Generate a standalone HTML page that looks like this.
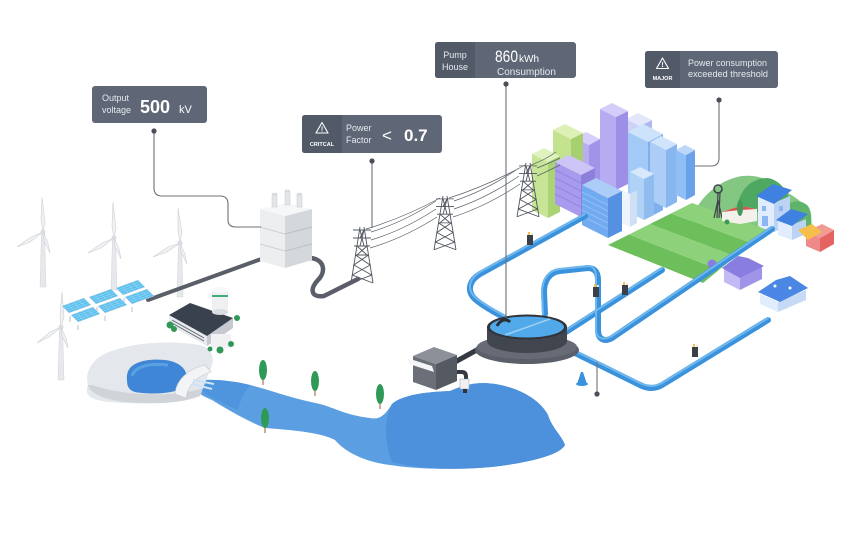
<!DOCTYPE html>
<html><head><meta charset="utf-8">
<style>
html,body{margin:0;padding:0;background:#fff;}
svg{display:block;}
text{font-family:"Liberation Sans",sans-serif;}
</style></head><body>
<svg width="850" height="550" viewBox="0 0 850 550" xmlns="http://www.w3.org/2000/svg">
<defs>
<g id="tower" fill="none" stroke="#4f545d" stroke-width="0.9">
<path d="M-2 0 L-11 56 M2 0 L11 56 M-9 3 L9 3 M-9 11 L9 11 M-8 19 L8 19 M-2 3 L2 19 M2 3 L-2 19 M-2 11 L2 3 M-6.5 28 L6.5 28 M-6.5 28 L8.1 38 L-9.7 48 L11 56 M6.5 28 L-8.1 38 L9.7 48 L-11 56 M-5 19 L5 28 M5 19 L-5 28"/>
</g>
<g id="meter">
<rect x="-3" y="-5" width="6" height="10" fill="#3b3f48"/>
<rect x="-2" y="-8" width="2" height="3" fill="#f2c14e"/>
<rect x="1" y="-7" width="2" height="2" fill="#e8e8e8"/>
</g>
<g id="panel">
<polygon points="0,0 22,-8 29,-1 7,7" fill="#5cc0ee" stroke="#d5dde5" stroke-width="0.5"/>
<path d="M5.5,-2 L12.5,5 M11,-4 L18,3 M16.5,-6 L23.5,1 M1.75,1.75 L23.75,-6.25 M3.5,3.5 L25.5,-4.5 M5.25,5.25 L27.25,-2.75" stroke="#a6dcf6" stroke-width="0.5"/>
</g>
</defs>

<!-- hills -->
<path d="M688 225 C 698 198, 718 180, 742 176 C 760 174, 776 182, 786 192 C 798 198, 812 208, 812 228 Z" fill="#84c782"/>
<path d="M736 210 C 740 188, 752 178, 768 178 C 778 180, 786 188, 790 200 L 790 215 Z" fill="#4fa862"/>
<path d="M780 215 C 786 200, 800 198, 808 206 C 812 212, 812 222, 810 228 Z" fill="#5fb36a"/>

<!-- field -->
<polygon points="608,245 629,234.5 719.25,269.75 703,283" fill="#6cbf5b"/>
<polygon points="629,234.5 650,224 735.5,256.5 719.25,269.75" fill="#8dd27a"/>
<polygon points="650,224 671,213.5 751.75,243.25 735.5,256.5" fill="#6cbf5b"/>
<polygon points="671,213.5 692,203 768,230 751.75,243.25" fill="#8dd27a"/>

<!-- windmill & farmhouse -->
<path d="M717 218 L718 192 M719 218 L720 192 M714 218 L718 200 M722 218 L718 200" stroke="#3d4249" stroke-width="1.2" fill="none"/>
<circle cx="718" cy="189" r="4" fill="none" stroke="#3d4249" stroke-width="1.5"/>
<polygon points="722,212 740,206 757,209 757,221 740,224 722,221" fill="#f4f1ec"/>
<polygon points="722,212 740,206 757,209 740,210" fill="#d9534f"/>
<circle cx="727" cy="222" r="2.5" fill="#3f9a58"/>
<ellipse cx="740" cy="208" rx="3" ry="8" fill="#3f9a58"/>

<!-- blue big house -->
<polygon points="758,196 774,203 774,232 758,226" fill="#e1ecfc"/>
<polygon points="774,203 790,196 790,225 774,232" fill="#bcd3f5"/>
<polygon points="756,196 773,184 792,190 774,204" fill="#3f80e0"/>
<rect x="762" y="206" width="4" height="5" fill="#8bb6f2"/>
<rect x="779" y="206" width="4" height="5" fill="#8bb6f2"/>
<rect x="762" y="216" width="6" height="10" fill="#8bb6f2"/>
<polygon points="778,220 792,225 792,240 778,235" fill="#e1ecfc"/>
<polygon points="792,225 806,219 806,234 792,240" fill="#bcd3f5"/>
<polygon points="776,220 791,209 808,214 792,226" fill="#3f80e0"/>
<!-- shop -->
<polygon points="806,232 820,238 820,252 806,246" fill="#ee8a8a"/>
<polygon points="820,238 834,230 834,244 820,252" fill="#e46462"/>
<polygon points="806,232 822,224 834,230 820,238" fill="#f29a94"/>
<polygon points="798,230 812,224 822,232 808,240" fill="#f6be4a"/>

<!-- purple house -->
<polygon points="724,268 740,276 740,290 724,282" fill="#c2baf5"/>
<polygon points="740,276 762,266 762,279 740,290" fill="#9f94e8"/>
<polygon points="722,268 738,256 748,258 764,266 740,278" fill="#8a7de0"/>
<circle cx="712" cy="264" r="4.5" fill="#8a7de0"/>
<!-- blue house bottom -->
<polygon points="760,294 778,302 778,312 760,304" fill="#e1ecfc"/>
<polygon points="778,302 806,290 806,300 778,312" fill="#c6daf6"/>
<polygon points="758,292 776,280 790,276 808,288 780,302" fill="#4a86e3"/>
<circle cx="775" cy="286" r="1.5" fill="#fff"/><circle cx="790" cy="288" r="1.5" fill="#fff"/>

<!-- city buildings -->
<polygon points="626,119 640,126 640,176 626,169" fill="#cfd2f7"/>
<polygon points="640,126 652,120 652,170 640,176" fill="#b1b8ef"/>
<polygon points="626,119 640,126 652,120 638,113" fill="#e4e6fb"/>
<polygon points="575,138 589,145 589,185 575,178" fill="#b9adf2"/>
<polygon points="589,145 600,139 600,180 589,185" fill="#a194e8"/>
<polygon points="575,138 589,145 600,139 586,132" fill="#d6cff9"/>
<polygon points="553,130 571,139 571,210 553,201" fill="#c3e38e"/>
<polygon points="571,139 583,133 583,204 571,210" fill="#a7d06e"/>
<polygon points="553,130 571,139 583,133 565,124" fill="#ddf1b6"/>
<polygon points="532,154 548,162 548,218 532,210" fill="#c7e596"/>
<polygon points="548,162 560,156 560,212 548,218" fill="#aad374"/>
<polygon points="532,154 548,162 560,156 544,148" fill="#e0f2bd"/>
<polygon points="600,109 616,117 616,190 600,182" fill="#b7abf1"/>
<polygon points="616,117 628,111 628,184 616,190" fill="#9d8fe6"/>
<polygon points="600,109 616,117 628,111 612,103" fill="#d5cdf9"/>
<polygon points="628,132 648,142 648,218 628,208" fill="#a3caf6"/>
<polygon points="648,142 663,134 663,210 648,218" fill="#7fb0ee"/>
<polygon points="628,132 648,142 663,134 643,124" fill="#cde3fb"/>
<polygon points="650,142 666,150 666,208 650,200" fill="#abcdf6"/>
<polygon points="666,150 677,144 677,202 666,208" fill="#88b6ef"/>
<polygon points="650,142 666,150 677,144 661,136" fill="#d0e4fb"/>
<polygon points="676,150 686,155 686,200 676,195" fill="#8fbff4"/>
<polygon points="686,155 695,150 695,195 686,200" fill="#6aa2ea"/>
<polygon points="676,150 686,155 695,150 685,145" fill="#bcd8f8"/>
<polygon points="555,162 581,175 581,217 555,204" fill="#a89aec"/>
<polygon points="581,175 595,168 595,210 581,217" fill="#8d7fdc"/>
<polygon points="555,162 581,175 595,168 569,155" fill="#cdc4f7"/>
<path d="M555 170 L581 183 M555 178 L581 191 M555 186 L581 199 M555 194 L581 207" stroke="#9587e2" stroke-width="1"/>
<polygon points="630,172 644,179 644,220 630,213" fill="#b1d2f7"/>
<polygon points="644,179 654,174 654,215 644,220" fill="#90bcf0"/>
<polygon points="630,172 644,179 654,174 640,167" fill="#d8e8fc"/>
<polygon points="622,190 630,194 630,227 622,223" fill="#eef4fc"/>
<polygon points="630,194 637,190 637,223 630,227" fill="#cfdff4"/>
<polygon points="582,185 608,198 608,238 582,225" fill="#72aaf1"/>
<polygon points="608,198 622,191 622,231 608,238" fill="#5690e3"/>
<polygon points="582,185 608,198 622,191 596,178" fill="#abcdf8"/>
<path d="M582 192 L608 205 M582 198 L608 211 M582 204 L608 217 M582 210 L608 223 M582 216 L608 229" stroke="#8fbdf5" stroke-width="1"/>

<!-- towers and wires -->
<g fill="none" stroke="#5a5f68" stroke-width="0.7">
<path d="M366 229 Q 403 218 440 198"/>
<path d="M371 232 Q 404 222 436 201"/>
<path d="M371 240 Q 404 230 436 209"/>
<path d="M370 248 Q 404 238 437 217"/>
<path d="M449 198 Q 487 186 525 165"/>
<path d="M454 201 Q 487 190 519 168"/>
<path d="M454 209 Q 487 198 519 176"/>
<path d="M453 217 Q 487 206 520 184"/>
<path d="M531 165 Q 545 160 556 152 M537 168 Q 550 163 560 158 M537 176 Q 550 170 560 165"/>
</g>
<use href="#tower" transform="translate(362,227)"/>
<use href="#tower" transform="translate(445,196) scale(1,0.96)"/>
<use href="#tower" transform="translate(528,163) scale(1,0.96)"/>

<!-- river & lake -->
<path d="M190 382 C 205 378, 230 380, 250 385 C 270 390, 290 398, 320 404 C 335 408, 345 415, 370 418 C 380 420, 385 415, 392 404 C 402 395, 425 392, 450 391 C 462 386, 475 381, 495 384 C 520 388, 540 400, 548 415 C 552 428, 562 436, 565 445 C 560 455, 530 462, 500 466 C 470 470, 420 470, 390 465 C 365 462, 345 452, 335 440 C 320 432, 290 430, 265 428 C 245 420, 225 408, 212 400 C 200 395, 193 390, 190 382 Z" fill="#5b9fe2"/>
<path d="M392 404 C 402 395, 425 392, 450 391 C 462 386, 475 381, 495 384 C 520 388, 540 400, 548 415 C 552 428, 562 436, 565 445 C 560 455, 530 462, 500 466 C 470 470, 420 470, 392 462 C 385 445, 383 420, 392 404 Z" fill="#4d91dc"/>
<path d="M190 382 C 205 378, 230 380, 250 385 C 245 392, 240 400, 238 410 C 225 405, 205 395, 190 382 Z" fill="#4f95dd"/>

<!-- trees -->
<g fill="#2f9a57">
<ellipse cx="263" cy="370" rx="4" ry="10"/>
<ellipse cx="315" cy="381" rx="4" ry="10"/>
<ellipse cx="380" cy="394" rx="4" ry="10"/>
<ellipse cx="265" cy="418" rx="4" ry="10"/>
</g>
<g stroke="#9b5a3c" stroke-width="1">
<path d="M263 380 L263 385 M315 391 L315 396 M380 404 L380 409 M265 428 L265 433"/>
</g>

<!-- blue pipes -->
<g fill="none" stroke-linecap="round" stroke-linejoin="round">
<g stroke="#3b92dc" stroke-width="6">
<path d="M505 318 C 490 310, 478 303, 473 297 C 467 289, 470 280, 480 274 L 585 216"/>
<path d="M545 314 L 544 292 C 544 280, 550 272, 560 271 L 588 268 C 596 268, 598 274, 598 280 L 598 330 C 598 340, 605 342, 612 338 L 772 229"/>
<path d="M566 332 L 662 270"/>
<path d="M565 348 L 640 385 C 648 389, 655 389, 662 385 L 768 320"/>
</g>
<g stroke="#6fb8ee" stroke-width="2">
<path d="M505 316 C 490 308, 478 301, 473 295 C 467 287, 470 278, 480 272 L 585 214"/>
<path d="M543 314 L 542 292 C 542 280, 548 270, 560 269 L 588 266 C 596 266, 596 274, 596 280 L 596 330 C 596 340, 605 340, 612 336 L 772 227"/>
<path d="M566 330 L 662 268"/>
<path d="M565 346 L 640 383 C 648 387, 655 387, 662 383 L 768 318"/>
</g>
</g>
<use href="#meter" transform="translate(530,240)"/>
<use href="#meter" transform="translate(625,290)"/>
<use href="#meter" transform="translate(596,292)"/>
<use href="#meter" transform="translate(695,352)"/>
<path d="M577 384 L581 372 L583 372 L587 384 Z" fill="#3b92dc"/>
<ellipse cx="582" cy="384" rx="6" ry="2" fill="#3b92dc"/>

<!-- pump house box and pipes -->
<path d="M455 362 L 495 340" stroke="#353941" stroke-width="5" stroke-linecap="round"/>
<path d="M452 372 L 462 372 Q 466 372 466 377 L 466 388" stroke="#353941" stroke-width="4" fill="none"/>
<rect x="460" y="379" width="9" height="10" fill="#f0f1f3" stroke="#9aa0a8" stroke-width="0.5"/>
<rect x="463" y="389" width="4" height="4" fill="#333"/>
<polygon points="413,356 436,364 436,390 413,382" fill="#6b6f78"/>
<polygon points="436,364 457,355 457,381 436,390" fill="#555961"/>
<polygon points="413,356 434,347 457,355 436,364" fill="#8c9098"/>
<polygon points="407,358 432,366 434,372 409,364" fill="#f4f5f6"/>

<!-- pump tank -->
<ellipse cx="527" cy="350" rx="52" ry="14" fill="#5a5f69"/>
<ellipse cx="527" cy="347" rx="50" ry="12" fill="#666b75"/>
<rect x="487" y="327" width="80" height="14" fill="#41454e"/>
<ellipse cx="527" cy="341" rx="40" ry="12" fill="#41454e"/>
<ellipse cx="527" cy="327" rx="40" ry="12.5" fill="#2f333a"/>
<ellipse cx="527" cy="327" rx="37" ry="10.5" fill="#52a9e9"/>
<path d="M505 335 L 550 319" stroke="#9dd0f4" stroke-width="1.5"/>
<path d="M497 326 C 500 320, 506 318, 510 322" stroke="#2a2d33" stroke-width="3" fill="none"/>

<!-- dam -->
<path d="M88 385 C 84 370, 95 355, 115 350 C 135 343, 170 340, 200 345 C 212 348, 216 360, 210 370 L 200 396 C 180 403, 140 405, 110 402 C 90 400, 84 395, 88 385 Z" fill="#e4e7eb"/>
<path d="M88 385 C 90 395, 110 402, 140 403 C 165 404, 185 402, 200 396 L 203 388 C 180 396, 130 398, 92 385 Z" fill="#d0d4d9"/>
<path d="M127 380 C 125 365, 140 358, 165 360 C 182 362, 190 372, 186 385 C 180 394, 150 395, 135 392 C 128 390, 127 385, 127 380 Z" fill="#3f86d6"/>
<path d="M132 376 C 135 366, 150 363, 168 365" stroke="#5aa0e4" stroke-width="3" fill="none"/>
<path d="M175 394 C 176 380, 188 369, 205 365 L 211 372 C 197 376, 188 385, 186 398 Z" fill="#f3f4f6" stroke="#c3c8ce" stroke-width="0.6"/>
<path d="M192 384 L 212 389 M193 380 L 214 384" stroke="#cfe3f7" stroke-width="2"/>

<!-- wind turbines -->
<g fill="#e6e8eb" stroke="#d2d5da" stroke-width="0.5">
<polygon points="41.5,232 44.5,232 46,287 40,287"/>
<polygon points="112.5,238 115.5,238 117,290 111,290"/>
<polygon points="178.5,243 181.5,243 183,297 177,297"/>
<polygon points="59.5,327 62.5,327 64,380 58,380"/>
</g>
<g fill="#f0f1f3" stroke="#cdd0d5" stroke-width="0.6">
<path d="M43 232 L41 220 L42 197 L45 222 Z M43 232 L30 242 L17 247 L31 237 Z M43 232 L48 243 L50 253 L44 241 Z"/>
<path d="M114 238 L112 226 L113 202 L116 228 Z M114 238 L101 248 L88 253 L102 243 Z M114 238 L119 249 L121 259 L115 247 Z"/>
<path d="M180 243 L178 231 L178 208 L182 233 Z M180 243 L167 252 L153 257 L168 247 Z M180 243 L185 254 L187 264 L181 252 Z"/>
<path d="M61 327 L60 315 L62 292 L64 317 Z M61 327 L49 337 L37 343 L50 332 Z M61 327 L66 338 L68 348 L62 336 Z"/>
</g>
<g fill="#d9dce0">
<circle cx="43" cy="232" r="2.5"/><circle cx="114" cy="238" r="2.5"/><circle cx="180" cy="243" r="2.5"/><circle cx="61" cy="327" r="2.5"/>
</g>

<!-- power cables -->
<path d="M148 300 L 264 258" stroke="#5a5e68" stroke-width="4" stroke-linecap="round"/>
<path d="M311 258 C 325 260, 326 272, 318 280 C 310 288, 310 298, 324 296 L 358 279" stroke="#5a5e68" stroke-width="4.5" fill="none" stroke-linecap="round"/>

<!-- solar panels -->
<path d="M70 316 L70 322 M97 307 L97 313 M124 298 L124 304 M78 325 L78 330 M105 316 L105 321 M132 307 L132 312" stroke="#c8ccd2" stroke-width="1.2"/>
<use href="#panel" transform="translate(62,306)"/>
<use href="#panel" transform="translate(89,297)"/>
<use href="#panel" transform="translate(116,288)"/>
<use href="#panel" transform="translate(71,315)"/>
<use href="#panel" transform="translate(98,306)"/>
<use href="#panel" transform="translate(125,297)"/>

<!-- transformer -->
<polygon points="285,216 312,209 312,260 285,268" fill="#d4d7dc"/>
<polygon points="260,209 285,216 285,268 260,261" fill="#eceef0"/>
<polygon points="260,209 287,203 312,209 285,216" fill="#f6f7f8"/>
<path d="M260 227 L285 234 M260 244 L285 251" stroke="#cfd2d7" stroke-width="1"/>
<path d="M285 234 L312 227 M285 251 L312 244" stroke="#bcc0c6" stroke-width="1"/>
<g fill="#e3e5e8" stroke="#c8ccd1" stroke-width="0.5">
<rect x="272" y="194" width="5" height="13"/><ellipse cx="274.5" cy="194" rx="2.5" ry="1"/>
<rect x="285" y="191" width="5" height="14"/><ellipse cx="287.5" cy="191" rx="2.5" ry="1"/>
<rect x="297" y="194" width="5" height="13"/><ellipse cx="299.5" cy="194" rx="2.5" ry="1"/>
</g>

<!-- factory -->
<polygon points="169,315 207,336 207,346 169,325" fill="#e8eaed"/>
<polygon points="207,336 233,318 233,328 207,346" fill="#c6cad0"/>
<polygon points="169,315 190,303 233,318 207,336" fill="#3a414e"/>
<path d="M172 320 L204 338 M172 323 L204 341" stroke="#5e6571" stroke-width="1"/>
<rect x="212" y="290" width="16" height="22" fill="#eef0f2"/>
<ellipse cx="220" cy="290" rx="8" ry="3" fill="#f7f8f9"/>
<rect x="212" y="295" width="16" height="2" fill="#3fae78"/>
<ellipse cx="220" cy="312" rx="8" ry="3" fill="#dadde1"/>
<rect x="211" y="334" width="20" height="14" fill="#f0f1f3"/>
<g fill="#2f9a57">
<circle cx="170" cy="325" r="3.5"/><circle cx="174" cy="329" r="3"/>
<circle cx="220" cy="350" r="3.5"/><circle cx="231" cy="344" r="3"/><circle cx="237" cy="318" r="3"/>
<circle cx="210" cy="349" r="2.5"/>
</g>

<!-- callout lines -->
<g fill="none" stroke="#6c717a" stroke-width="1.1">
<path d="M154 131 L154 188 Q154 196 162 196 L220 196 Q228 196 228 204 L228 220 Q228 227 236 227 L261 227"/>
<path d="M372 161 L372 228"/>
<path d="M506 84 L506 318"/>
<path d="M719 100 L719 158 Q719 166 711 166 L695 166"/>
<path d="M597 394 L597 362"/>
</g>
<g fill="#4a4f58">
<circle cx="154" cy="131" r="2.6"/>
<circle cx="372" cy="161" r="2.6"/>
<circle cx="506" cy="84" r="2.6"/>
<circle cx="719" cy="100" r="2.6"/>
<circle cx="597" cy="394" r="2.6"/>
</g>

<!-- label 1 -->
<rect x="92" y="86" width="115" height="37" rx="3" fill="#5f6776"/>
<text x="102" y="101" font-size="9" fill="#e6e9ee">Output</text>
<text x="102" y="113" font-size="9" fill="#e6e9ee">voltage</text>
<text x="140" y="113" font-size="18" font-weight="bold" fill="#fff">500</text>
<text x="179" y="113" font-size="11" fill="#fff">kV</text>

<!-- label 2 -->
<rect x="302" y="115" width="140" height="38" rx="3" fill="#5f6776"/>
<path d="M305 115 L342 115 L342 153 L305 153 Q302 153 302 150 L302 118 Q302 115 305 115 Z" fill="#525967"/>
<path d="M322 122.5 L328 133 L316 133 Z" fill="none" stroke="#fff" stroke-width="1.1" stroke-linejoin="round"/>
<text x="322" y="131.5" font-size="7" font-weight="bold" fill="#fff" text-anchor="middle">!</text>
<text x="322" y="146" font-size="5.5" font-weight="bold" fill="#fff" text-anchor="middle">CRITCAL</text>
<text x="346" y="131" font-size="9" fill="#e6e9ee">Power</text>
<text x="346" y="143" font-size="9" fill="#e6e9ee">Factor</text>
<text x="382" y="141" font-size="17" fill="#fff">&lt;</text>
<text x="404" y="141" font-size="17" font-weight="bold" fill="#fff">0.7</text>

<!-- label 3 -->
<rect x="435" y="42" width="141" height="36" rx="3" fill="#5f6776"/>
<path d="M438 42 L475 42 L475 78 L438 78 Q435 78 435 75 L435 45 Q435 42 438 42 Z" fill="#525967"/>
<text x="455" y="58" font-size="9" fill="#e6e9ee" text-anchor="middle">Pump</text>
<text x="455" y="70" font-size="9" fill="#e6e9ee" text-anchor="middle">House</text>
<text x="495" y="62" font-size="17" fill="#fff" textLength="23" lengthAdjust="spacingAndGlyphs">860</text>
<text x="519" y="62" font-size="10" fill="#fff">kWh</text>
<text x="497" y="75" font-size="10" fill="#e6e9ee">Consumption</text>

<!-- label 4 -->
<rect x="645" y="51" width="133" height="37" rx="3" fill="#5f6776"/>
<path d="M648 51 L680 51 L680 88 L648 88 Q645 88 645 85 L645 54 Q645 51 648 51 Z" fill="#525967"/>
<path d="M662.5 58 L668.5 68.5 L656.5 68.5 Z" fill="none" stroke="#fff" stroke-width="1.1" stroke-linejoin="round"/>
<text x="662.5" y="67" font-size="7" font-weight="bold" fill="#fff" text-anchor="middle">!</text>
<text x="662.5" y="80" font-size="5.5" font-weight="bold" fill="#fff" text-anchor="middle">MAJOR</text>
<text x="688" y="66" font-size="9" fill="#e6e9ee" textLength="79" lengthAdjust="spacingAndGlyphs">Power consumption</text>
<text x="688" y="77" font-size="9" fill="#e6e9ee" textLength="80" lengthAdjust="spacingAndGlyphs">exceeded threshold</text>
</svg>
</body></html>
